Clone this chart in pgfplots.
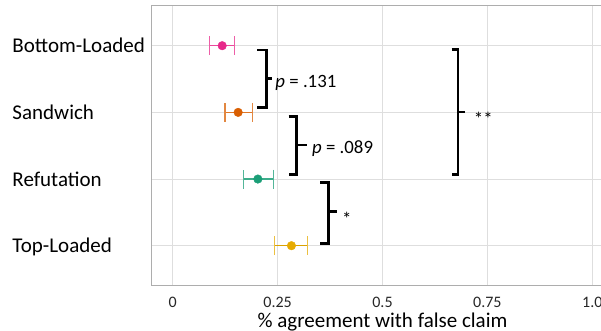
\documentclass[border=0pt]{standalone}
\usepackage{pgfplots}
\pgfplotsset{compat=1.18}
\usepackage{fontspec}
\setmainfont{Carlito}
\definecolor{cpink}{HTML}{E7298A}
\definecolor{corange}{HTML}{D95F02}
\definecolor{cgreen}{HTML}{1B9E77}
\definecolor{cyellow}{HTML}{E6AB02}
\begin{document}
\begin{tikzpicture}
\begin{axis}[
  name=ax,
  scale only axis,
  width=461.6bp, height=280bp,
  xmin=-0.05, xmax=1.05,
  ymin=0.4, ymax=4.6,
  y dir=reverse,
  xtick={0,0.25,0.5,0.75,1},
  xticklabels={0,0.25,0.5,0.75,1.0},
  ytick={1,2,3,4},
  yticklabels={Bottom-Loaded,Sandwich,Refutation,Top-Loaded},
  major tick length=0pt,
  grid=major,
  major grid style={color=black!13, line width=0.9bp},
  axis line style={color=black!32, line width=0.9bp},
  xticklabel style={font=\fontsize{16bp}{19bp}\selectfont, inner sep=0pt, anchor=north, yshift=-11.3bp, text=black!85},
  yticklabel style={font=\fontsize{21bp}{25bp}\selectfont, inner sep=0pt, anchor=east, xshift=-5.7bp, text width=133.3bp, align=left, text height=14bp, text depth=0pt, text=black},
  xlabel={\% agreement with false claim},
  xlabel style={font=\fontsize{21bp}{25bp}\selectfont, at={(axis description cs:0.5,0)}, anchor=north, yshift=-27bp, inner sep=0pt},
  clip=false,
]
% error bars + points
\addplot[only marks, mark=*, mark size=4.3bp, color=cpink,
  error bars/.cd, x dir=both, x explicit,
  error bar style={color=cpink!85!white, line width=1.3bp},
  error mark=|, error mark options={color=cpink!75!white, mark size=9.5bp, line width=1.3bp}]
  coordinates {(0.118,1) += (0.029,0) -= (0.030,0)};
\addplot[only marks, mark=*, mark size=4.3bp, color=corange,
  error bars/.cd, x dir=both, x explicit,
  error bar style={color=corange!85!white, line width=1.3bp},
  error mark=|, error mark options={color=corange!75!white, mark size=9.5bp, line width=1.3bp}]
  coordinates {(0.156,2) += (0.034,0) -= (0.031,0)};
\addplot[only marks, mark=*, mark size=4.3bp, color=cgreen,
  error bars/.cd, x dir=both, x explicit,
  error bar style={color=cgreen!85!white, line width=1.3bp},
  error mark=|, error mark options={color=cgreen!75!white, mark size=9.5bp, line width=1.3bp}]
  coordinates {(0.203,3) += (0.037,0) -= (0.035,0)};
\addplot[only marks, mark=*, mark size=4.3bp, color=cyellow,
  error bars/.cd, x dir=both, x explicit,
  error bar style={color=cyellow!95!black, line width=1.3bp},
  error mark=|, error mark options={color=cyellow!75!white, mark size=9.5bp, line width=1.3bp}]
  coordinates {(0.283,4) += (0.039,0) -= (0.041,0)};
% brackets
\addplot[black, line width=2.8bp, line join=miter, mark=none] coordinates {(0.202,1.064) (0.2233,1.064) (0.2233,1.93) (0.202,1.93)};
\addplot[black, line width=2.8bp, mark=none] coordinates {(0.2233,1.497) (0.237,1.497)};
\addplot[black, line width=2.8bp, line join=miter, mark=none] coordinates {(0.276,2.066) (0.296,2.066) (0.296,2.93) (0.276,2.93)};
\addplot[black, line width=2.8bp, mark=none] coordinates {(0.296,2.49) (0.32,2.49)};
\addplot[black, line width=2.8bp, line join=miter, mark=none] coordinates {(0.352,3.05) (0.371,3.05) (0.371,3.97) (0.352,3.97)};
\addplot[black, line width=2.8bp, mark=none] coordinates {(0.371,3.49) (0.391,3.49)};
\addplot[black, line width=2.8bp, line join=miter, mark=none] coordinates {(0.665,1.06) (0.680,1.06) (0.680,2.93) (0.665,2.93)};
\addplot[black, line width=2.8bp, mark=none] coordinates {(0.680,1.995) (0.697,1.995)};
% labels
\node[anchor=base west, inner sep=0pt, yshift=-8.5bp, font=\fontsize{18.8bp}{22bp}\selectfont] at (axis cs:0.2445,1.497) {\textit{p} = .131};
\node[anchor=base west, inner sep=0pt, yshift=-8bp, font=\fontsize{18.8bp}{22bp}\selectfont] at (axis cs:0.332,2.49) {\textit{p} = .089};
\node[anchor=west, inner sep=0pt, yshift=-4bp, font=\fontsize{18.8bp}{22bp}\selectfont] at (axis cs:0.4035,3.54) {*};
\node[anchor=west, inner sep=0pt, yshift=-4bp, font=\fontsize{18.8bp}{22bp}\selectfont] at (axis cs:0.7175,2.03) {**};
\end{axis}
\pgfresetboundingbox
\path[use as bounding box] ([shift={(-151.7bp,-45.3bp)}]ax.south west) rectangle ([shift={(449.3bp,285.7bp)}]ax.south west);
\end{tikzpicture}
\end{document}
